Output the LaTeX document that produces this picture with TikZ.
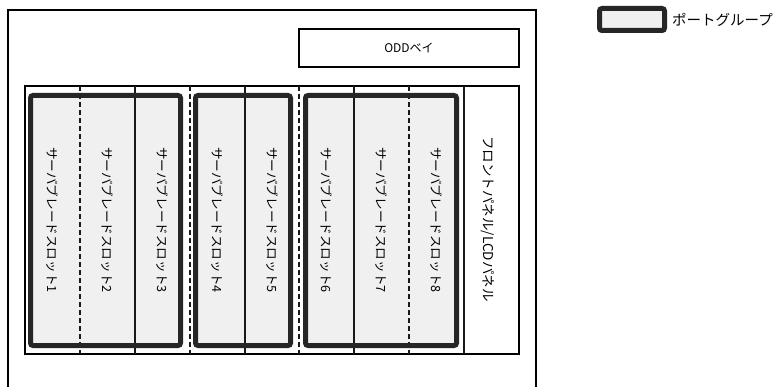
\documentclass[tikz,border=0pt]{standalone}
\usepackage{fontspec}
\setmainfont{Noto Sans CJK JP}
\begin{document}
\begin{tikzpicture}[x=1pt,y=-1pt,
  frame/.style={draw=black,line width=2.3pt},
  divsolid/.style={draw=black!90,line width=1.5pt},
  divdash/.style={draw=black!90,line width=1.6pt,dash pattern=on 5pt off 3pt},
  group/.style={draw=black!85,line width=5pt,rounded corners=2.5pt},
  groupfill/.style={fill=black!6,rounded corners=2.5pt},
  slottext/.style={rotate=-90,font=\fontsize{12.6}{14}\selectfont,text=black,inner sep=0pt},
  lbl/.style={font=\fontsize{12}{14}\selectfont,text=black,inner sep=0pt}]
\useasboundingbox (0,0) rectangle (784,387);
\fill[white] (0,0) rectangle (784,387);
% outer chassis (open at the bottom)
\draw[frame] (8,392) -- (8,10) -- (536,10) -- (536,392);
% ODD bay
\node[frame,draw,minimum width=220pt,minimum height=38pt,inner sep=0pt] (odd) at (409,48) {};
\node[lbl] (oddt) at (odd.center) {ODDベイ};
% group fills
\fill[groupfill] (30.5,95.5) rectangle (180.5,345.5);
\fill[groupfill] (195.5,95.5) rectangle (290.5,345.5);
\fill[groupfill] (305.5,95.5) rectangle (456.5,345.5);
% slot frame
\draw[frame] (25,86) rectangle (519,354);
\foreach \x/\s in {80/divdash,135/divsolid,190/divdash,245/divsolid,299/divdash,354/divsolid,409/divdash,464/divsolid}
  \draw[\s] (\x,86) -- (\x,354);
% port groups
\draw[group] (30.5,95.5) rectangle (180.5,345.5);
\draw[group] (195.5,95.5) rectangle (290.5,345.5);
\draw[group] (305.5,95.5) rectangle (456.5,345.5);
% slot labels
\node[slottext] (s1) at (52.5,220) {サーバブレードスロット1};
\node[slottext] (s2) at (107.5,220) {サーバブレードスロット2};
\node[slottext] (s3) at (162,220) {サーバブレードスロット3};
\node[slottext] (s4) at (217,220) {サーバブレードスロット4};
\node[slottext] (s5) at (272,220) {サーバブレードスロット5};
\node[slottext] (s6) at (326.5,220) {サーバブレードスロット6};
\node[slottext] (s7) at (381.5,220) {サーバブレードスロット7};
\node[slottext] (s8) at (436.5,220) {サーバブレードスロット8};
\node[slottext,font=\fontsize{13.5}{15}\selectfont] (fp) at (488,219) {フロントパネル/LCDパネル};
% legend
\fill[groupfill] (599.5,8.5) rectangle (664.5,30.5);
\draw[group] (599.5,8.5) rectangle (664.5,30.5);
\node[lbl,anchor=west,font=\fontsize{14.5}{16}\selectfont] (leg) at (672,19.5) {ポートグループ};
\end{tikzpicture}
\end{document}
